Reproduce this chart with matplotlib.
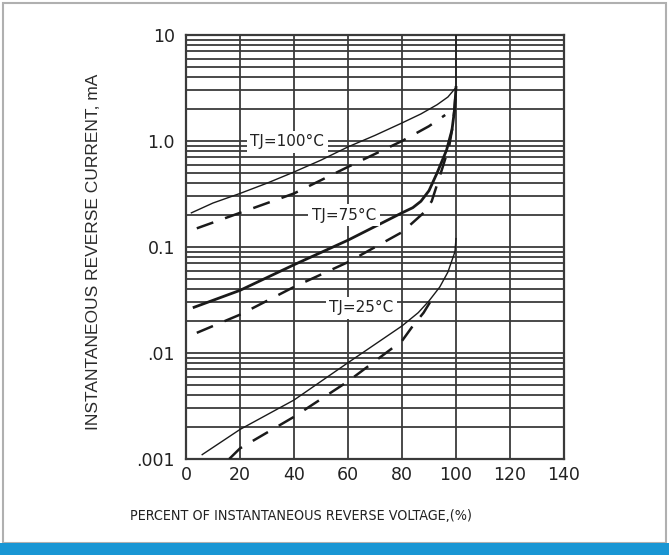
import matplotlib
matplotlib.use("Agg")
import matplotlib.pyplot as plt
from matplotlib.ticker import FixedLocator, NullFormatter
from matplotlib.patches import Rectangle

# ---- data ----
tj100_solid_x = [2, 10, 20, 30, 40, 50, 60, 70, 80, 87, 93, 97, 100, 100]
tj100_solid_y = [0.21, 0.26, 0.32, 0.40, 0.51, 0.66, 0.88, 1.13, 1.48, 1.80, 2.2, 2.6, 3.2, 10]

tj100_dash_x = [4, 20, 40, 60, 80, 90, 96]
tj100_dash_y = [0.15, 0.21, 0.32, 0.57, 1.0, 1.38, 1.76]

tj75_solid_x = [3, 20, 40, 60, 80, 84, 87, 90, 93, 96.5, 98.5, 99.5, 100]
tj75_solid_y = [0.027, 0.039, 0.068, 0.116, 0.21, 0.235, 0.27, 0.34, 0.50, 0.82, 1.27, 2.0, 3.2]

tj75_dash_x = [4, 20, 40, 60, 80, 84, 88, 91, 95, 97.5, 99, 99.7]
tj75_dash_y = [0.0155, 0.023, 0.042, 0.072, 0.138, 0.17, 0.21, 0.27, 0.56, 0.9, 1.5, 2.5]

tj25_solid_x = [6, 20, 40, 60, 80, 86, 90, 94, 97, 99.6, 100]
tj25_solid_y = [0.0011, 0.0019, 0.0036, 0.0081, 0.018, 0.024, 0.031, 0.042, 0.058, 0.09, 0.12]

tj25_dash_x = [16, 20, 40, 60, 80, 84, 88, 91]
tj25_dash_y = [0.001, 0.00126, 0.0025, 0.0054, 0.013, 0.018, 0.024, 0.032]

x_ticks = [0, 20, 40, 60, 80, 100, 120, 140]
x_tick_labels = ["0", "20", "40", "60", "80", "100", "120", "140"]
y_ticks = [0.001, 0.01, 0.1, 1.0, 10]
y_tick_labels = [".001", ".01", "0.1", "1.0", "10"]

labels = ["TJ=100\u00b0C", "TJ=75\u00b0C", "TJ=25\u00b0C"]
label_x = [37.5, 58.5, 65]
label_y = [0.98, 0.20, 0.0266]

x_title = "PERCENT OF INSTANTANEOUS REVERSE VOLTAGE,(%)"
y_title = "INSTANTANEOUS REVERSE CURRENT, mA"

# ---- figure ----
fig = plt.figure(figsize=(6.69, 5.55), dpi=100)
fig.patch.set_facecolor("white")

# outer frame and blue bar
fig.add_artist(Rectangle((3/669, 12/555), 663/669, 540/555, transform=fig.transFigure,
                         fill=False, edgecolor="#b0b0b0", linewidth=1.5))
fig.add_artist(Rectangle((0, 0), 1, 12/555, transform=fig.transFigure,
                         facecolor="#1996d4", edgecolor="none"))

ax = fig.add_axes([186/669, 1 - 459/555, (564 - 186)/669, (459 - 35)/555])
ax.set_yscale("log")
ax.set_xlim(0, 140)
ax.set_ylim(0.001, 10)

grid_color = "#3a3a3a"
minor_vals = [m * 10.0**e for e in range(-3, 1) for m in range(2, 10)]
major_vals = [0.001, 0.01, 0.1, 1.0, 10]
for v in minor_vals + major_vals:
    ax.axhline(v, color=grid_color, lw=1.3, zorder=1)
for v in x_ticks:
    ax.axvline(v, color=grid_color, lw=1.3, zorder=1)

for s in ax.spines.values():
    s.set_color(grid_color)
    s.set_linewidth(1.6)

ax.xaxis.set_major_locator(FixedLocator(x_ticks))
ax.set_xticklabels(x_tick_labels)
ax.yaxis.set_major_locator(FixedLocator(y_ticks))
ax.yaxis.set_minor_locator(FixedLocator([]))
ax.yaxis.set_minor_formatter(NullFormatter())
ax.set_yticklabels(y_tick_labels)
ax.tick_params(axis="both", which="both", length=0, labelsize=12.5, colors="#222222")
ax.tick_params(axis="x", pad=5)
ax.tick_params(axis="y", pad=8)
for t in ax.get_xticklabels() + ax.get_yticklabels():
    t.set_fontfamily("DejaVu Sans")

line_color = "#1a1a1a"
ax.plot(tj100_solid_x, tj100_solid_y, color=line_color, lw=1.0, zorder=3)
ax.plot(tj100_dash_x, tj100_dash_y, color=line_color, lw=1.8, dashes=[7, 5], zorder=3)
ax.plot(tj75_solid_x, tj75_solid_y, color=line_color, lw=2.0, zorder=3)
ax.plot(tj75_dash_x, tj75_dash_y, color=line_color, lw=1.8, dashes=[7, 5], zorder=3)
ax.plot(tj25_solid_x, tj25_solid_y, color=line_color, lw=1.0, zorder=3)
ax.plot(tj25_dash_x, tj25_dash_y, color=line_color, lw=1.8, dashes=[7, 5], zorder=3)

for txt, lx, ly in zip(labels, label_x, label_y):
    ax.text(lx, ly, txt, ha="center", va="center", fontsize=11, color="#222222",
            family=["DejaVu Sans"], zorder=4,
            bbox=dict(facecolor="white", edgecolor="none", pad=2.5))

fig.text(301/669, 1 - 516/555, x_title, ha="center", va="center", fontsize=10.3,
         color="#222222", family=["DejaVu Sans"], fontstretch="condensed")
fig.text(93/669, 1 - 252/555, y_title, ha="center", va="center", rotation=90,
         fontsize=12.5, color="#2a2a2a", family=["Liberation Sans", "DejaVu Sans"])

fig.savefig("out.png", dpi=100, facecolor="white")
